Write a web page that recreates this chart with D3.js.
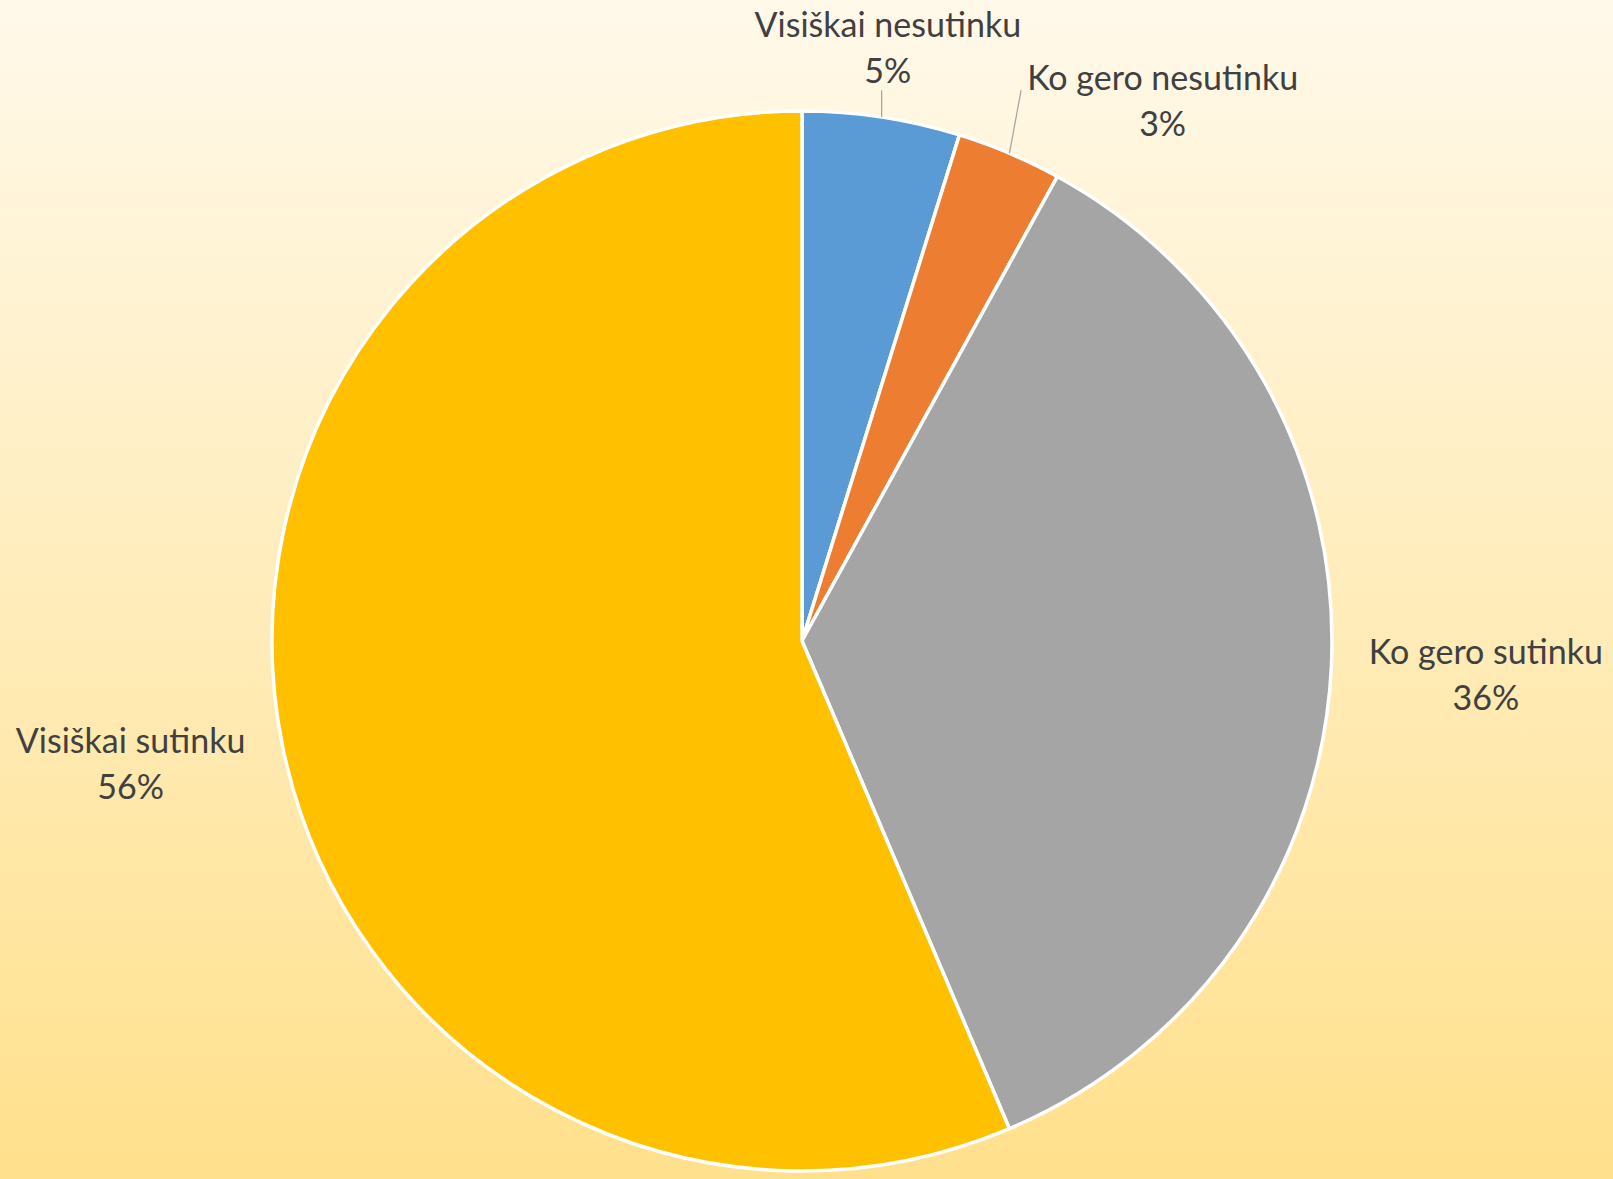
<!DOCTYPE html>
<html>
<head>
<meta charset="utf-8">
<script src="https://cdn.jsdelivr.net/npm/d3@7"></script>
<style>
  body { margin: 0; }
  svg { display: block; }
</style>
</head>
<body>
<div id="chart"></div>
<script>
const width = 1613
const height = 1179

const categories = ['Visiškai nesutinku', 'Ko gero nesutinku', 'Ko gero sutinku', 'Visiškai sutinku']
const shares = [4.8, 3.2, 35.6, 56.4]
const colors = ['#5B9BD5', '#ED7D31', '#A5A5A5', '#FFC000']

// label placement: radius factor and angle shift (degrees) per slice
const labelRadius = [1.13, 1.225, 1.292, 1.288]
const labelShift = [-0.4, 10.7, 0, 1.1]

const cx = 802
const cy = 641
const radius = 530

const data = categories.map((name, i) => ({ name, value: shares[i], color: colors[i], i }))
const total = d3.sum(shares)

const svg = d3.select('#chart')
  .append('svg')
  .attr('width', width)
  .attr('height', height)

const grad = svg.append('defs')
  .append('linearGradient')
  .attr('id', 'bg')
  .attr('x1', 0).attr('y1', 0)
  .attr('x2', 0).attr('y2', 1)
grad.append('stop').attr('offset', '0%').attr('stop-color', '#FFF9EA')
grad.append('stop').attr('offset', '100%').attr('stop-color', '#FFE08C')

svg.append('rect')
  .attr('width', width)
  .attr('height', height)
  .attr('fill', 'url(#bg)')

const pie = d3.pie()
  .value((d) => d.value)
  .sort(null)

const arc = d3.arc()
  .innerRadius(0)
  .outerRadius(radius)

const g = svg.append('g')
  .attr('transform', `translate(${cx}, ${cy})`)

const arcs = pie(data)

g.selectAll('path')
  .data(arcs)
  .join('path')
  .attr('d', arc)
  .attr('fill', (d) => d.data.color)
  .attr('stroke', '#ffffff')
  .attr('stroke-width', 3.5)
  .attr('stroke-linejoin', 'round')

const pct = (v) => `${Math.round(v / total * 100)}%`

const labels = g.selectAll('g.label')
  .data(arcs)
  .join('g')
  .attr('class', 'label')
  .attr('transform', (d) => {
    const a = (d.startAngle + d.endAngle) / 2 + labelShift[d.data.i] * Math.PI / 180
    const r = radius * labelRadius[d.data.i]
    return `translate(${r * Math.sin(a)}, ${-r * Math.cos(a)})`
  })

const text = labels.append('text')
  .attr('text-anchor', 'middle')
  .attr('font-family', 'Lato, "Open Sans", sans-serif')
  .attr('font-size', 34)
  .attr('fill', '#404040')

text.append('tspan')
  .attr('x', 0)
  .attr('y', -11.5)
  .text((d) => d.data.name)

text.append('tspan')
  .attr('x', 0)
  .attr('y', 34.5)
  .text((d) => pct(d.data.value))

// leader lines for the thin slices
labels.each(function (d) {
  if (d.data.value >= 6) return
  const a = (d.startAngle + d.endAngle) / 2
  const ax = radius * Math.sin(a)
  const ay = -radius * Math.cos(a)
  const box = this.getBBox()
  const t = d3.select(this).attr('transform').match(/-?[\d.]+/g).map(Number)
  const left = t[0] + box.x
  const right = left + box.width
  let ex, ey
  if (ax >= left && ax <= right) {
    ex = ax
    ey = t[1] + 42
  } else {
    ex = left - 6
    ey = t[1] - 11
  }
  g.append('line')
    .attr('x1', ax).attr('y1', ay)
    .attr('x2', ex).attr('y2', ey)
    .attr('stroke', '#A6A6A6')
    .attr('stroke-width', 1.3)
})
</script>
</body>
</html>
